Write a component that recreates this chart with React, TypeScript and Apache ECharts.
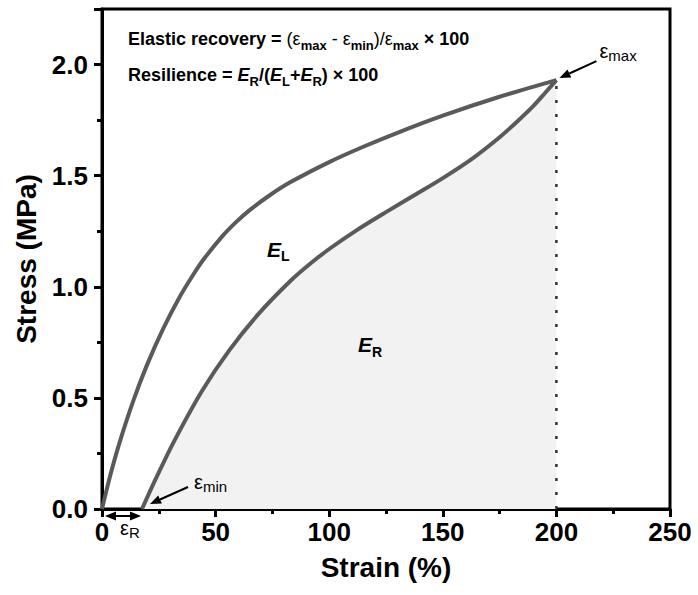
import React, { useEffect, useRef } from 'react';
import * as echarts from 'echarts';

const strainMin = 0;
const strainMax = 250;
const strainInterval = 50;
const stressMin = 0;
const stressMax = 2.25;
const stressInterval = 0.5;

const loadingStrain = [0, 4, 8, 14, 20, 27, 34, 40, 45, 53, 59, 65, 74, 83, 100, 115, 130, 150, 175, 200];
const loadingStress = [0, 0.165, 0.308, 0.493, 0.653, 0.813, 0.951, 1.052, 1.127, 1.228, 1.291, 1.345, 1.413, 1.471, 1.561, 1.63, 1.693, 1.77, 1.855, 1.93];

const unloadingStrain = [17.6, 24, 32, 44, 56, 69, 83, 92, 100, 112, 125, 138, 150, 163, 175, 183, 190, 195, 200];
const unloadingStress = [0, 0.143, 0.31, 0.531, 0.714, 0.879, 1.027, 1.107, 1.17, 1.254, 1.336, 1.415, 1.489, 1.577, 1.673, 1.746, 1.815, 1.872, 1.93];

const epsMax = [200, 1.93];
const epsMin = [17.6, 0];
const labelEL = [72.6, 1.17];
const labelER = [112.7, 0.74];

const FONT = '"Liberation Sans", Arial, Helvetica, sans-serif';
const CURVE = '#5a5a5a';

export default function App() {
  const ref = useRef<HTMLDivElement>(null);
  useEffect(() => {
    const chart = echarts.init(ref.current!, null, { renderer: 'svg' });
    const axisCommon = {
      type: 'value',
      axisLine: { show: true, onZero: false, lineStyle: { color: '#000', width: 3 } },
      axisTick: { show: true, inside: false, length: 8, lineStyle: { color: '#000', width: 3 } },
      minorTick: { show: true, splitNumber: 2, length: 5, lineStyle: { color: '#000', width: 3 } },
      splitLine: { show: false },
      minorSplitLine: { show: false },
      nameLocation: 'middle',
      nameTextStyle: { fontSize: 28, fontWeight: 'bold', color: '#000', fontFamily: FONT },
    };
    chart.setOption({
      animation: false,
      backgroundColor: '#fff',
      grid: { left: 102, right: 28, top: 9, bottom: 86, show: true, borderColor: '#000', borderWidth: 3, backgroundColor: 'transparent' },
      xAxis: {
        ...axisCommon,
        min: strainMin,
        max: strainMax,
        interval: strainInterval,
        name: 'Strain (%)',
        nameGap: 44,
        axisLabel: { fontSize: 26, fontWeight: 'bold', color: '#000', fontFamily: FONT, margin: 10 },
      },
      yAxis: {
        ...axisCommon,
        min: stressMin,
        max: stressMax,
        interval: stressInterval,
        name: 'Stress (MPa)',
        nameGap: 60,
        axisLabel: {
          fontSize: 26, fontWeight: 'bold', color: '#000', fontFamily: FONT, margin: 14,
          formatter: (v: number) => (Math.abs(v / stressInterval - Math.round(v / stressInterval)) < 1e-6 ? v.toFixed(1) : ''),
        },
      },
      series: [
        {
          type: 'line',
          name: 'unloading',
          data: unloadingStrain.map((x, i) => [x, unloadingStress[i]]),
          smooth: 0.3,
          showSymbol: false,
          lineStyle: { color: CURVE, width: 4 },
          areaStyle: { color: '#f2f2f2', opacity: 1, origin: 'start' },
          z: 2,
        },
        {
          type: 'line',
          name: 'loading',
          data: loadingStrain.map((x, i) => [x, loadingStress[i]]),
          smooth: 0.3,
          showSymbol: false,
          lineStyle: { color: CURVE, width: 4 },
          z: 3,
        },
        {
          type: 'line',
          name: 'max',
          data: [[epsMax[0], 0], [epsMax[0], epsMax[1]]],
          showSymbol: false,
          lineStyle: { color: '#333', width: 2.5, type: [3, 11] },
          z: 4,
        },
      ],
    });

    const px = (p: number[]) => chart.convertToPixel({ gridIndex: 0 }, p) as number[];
    const arrow = (x1: number, y1: number, x2: number, y2: number, both = false) => {
      const dx = x2 - x1, dy = y2 - y1;
      const L = Math.hypot(dx, dy);
      const ux = dx / L, uy = dy / L;
      const nx = -uy, ny = ux;
      const hl = 11, hw = 4.5;
      const els: any[] = [];
      const sx = both ? x1 + ux * hl : x1, sy = both ? y1 + uy * hl : y1;
      const ex = x2 - ux * hl, ey = y2 - uy * hl;
      els.push({ type: 'line', shape: { x1: sx, y1: sy, x2: ex, y2: ey }, style: { stroke: '#000', lineWidth: 2 }, z: 100 });
      els.push({ type: 'polygon', shape: { points: [[x2, y2], [ex + nx * hw, ey + ny * hw], [ex - nx * hw, ey - ny * hw]] }, style: { fill: '#000' }, z: 100 });
      if (both) {
        els.push({ type: 'polygon', shape: { points: [[x1, y1], [sx + nx * hw, sy + ny * hw], [sx - nx * hw, sy - ny * hw]] }, style: { fill: '#000' }, z: 100 });
      }
      return els;
    };

    const pMax = px(epsMax);
    const pMin = px(epsMin);
    const p0 = px([0, 0]);
    const pEL = px(labelEL);
    const pER = px(labelER);

    const rich = {
      b: { fontSize: 18, fontWeight: 'bold', fontFamily: FONT, color: '#000', lineHeight: 26 },
      n: { fontSize: 18, fontWeight: 'normal', fontFamily: FONT, color: '#000', lineHeight: 26 },
      i: { fontSize: 18, fontWeight: 'bold', fontStyle: 'italic', fontFamily: FONT, color: '#000', lineHeight: 26 },
      s: { fontSize: 13, fontWeight: 'bold', fontFamily: FONT, color: '#000', lineHeight: 13, verticalAlign: 'bottom' },
      E: { fontSize: 21, fontWeight: 'bold', fontStyle: 'italic', fontFamily: FONT, color: '#000', lineHeight: 28 },
      S: { fontSize: 14, fontWeight: 'bold', fontFamily: FONT, color: '#000', lineHeight: 14, verticalAlign: 'bottom' },
      e: { fontSize: 20, fontWeight: 'normal', fontFamily: FONT, color: '#000', lineHeight: 24 },
      es: { fontSize: 15, fontWeight: 'normal', fontFamily: FONT, color: '#000', lineHeight: 14, verticalAlign: 'bottom' },
    };

    const graphics: any[] = [
      {
        type: 'text', x: 128, y: 39, z: 100,
        style: {
          text: '{b|Elastic recovery = }{n|(ε}{s|max}{n| - ε}{s|min}{n|)/ε}{s|max}{b| × 100}',
          rich, verticalAlign: 'middle', align: 'left',
        },
      },
      {
        type: 'text', x: 128, y: 75, z: 100,
        style: {
          text: '{b|Resilience = }{i|E}{s|R}{b|/(}{i|E}{s|L}{b|+}{i|E}{s|R}{b|) × 100}',
          rich, verticalAlign: 'middle', align: 'left',
        },
      },
      {
        type: 'text', x: pEL[0], y: pEL[1], z: 100,
        style: { text: '{E|E}{S|L}', rich, verticalAlign: 'middle', align: 'left' },
      },
      {
        type: 'text', x: pER[0], y: pER[1], z: 100,
        style: { text: '{E|E}{S|R}', rich, verticalAlign: 'middle', align: 'left' },
      },
      {
        type: 'text', x: pMax[0] + 43, y: pMax[1] - 29, z: 100,
        style: { text: '{e|ε}{es|max}', rich, verticalAlign: 'middle', align: 'left' },
      },
      {
        type: 'text', x: pMin[0] + 52, y: pMin[1] - 27, z: 100,
        style: { text: '{e|ε}{es|min}', rich, verticalAlign: 'middle', align: 'left' },
      },
      {
        type: 'text', x: p0[0] + 18, y: p0[1] + 19, z: 100,
        style: { text: '{e|ε}{es|R}', rich, verticalAlign: 'middle', align: 'left' },
      },
      ...arrow(pMax[0] + 40, pMax[1] - 19, pMax[0] + 3, pMax[1] - 2),
      ...arrow(pMin[0] + 46, pMin[1] - 22, pMin[0] + 8, pMin[1] - 5),
      ...arrow(p0[0] + 3, p0[1] + 7, pMin[0] - 1, pMin[1] + 7, true),
    ];
    chart.setOption({ graphic: graphics });
    return () => chart.dispose();
  }, []);
  return <div ref={ref} style={{ position: 'absolute', left: 0, top: 0, width: 698, height: 595 }} />;
}
